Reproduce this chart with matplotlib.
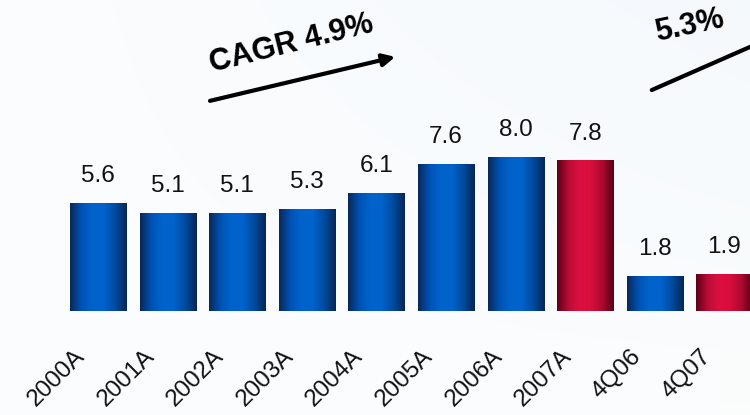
import numpy as np
import matplotlib
matplotlib.use("Agg")
from matplotlib import pyplot as plt
from matplotlib.colors import LinearSegmentedColormap

plt.rcParams['font.family'] = ['Liberation Sans', 'DejaVu Sans']

periods = ['2000A', '2001A', '2002A', '2003A', '2004A',
           '2005A', '2006A', '2007A', '4Q06', '4Q07']
values = [5.6, 5.1, 5.1, 5.3, 6.1, 7.6, 8.0, 7.8, 1.8, 1.9]
highlight = ['2007A', '4Q07']

# cylinder-like shading across each bar
blue = LinearSegmentedColormap.from_list(
    'blue', ['#0a2858', '#0052b4', '#0064cc', '#0062ca', '#004a9e', '#072654'])
red = LinearSegmentedColormap.from_list(
    'red', ['#5c0018', '#b80c34', '#dc1040', '#d80e3c', '#ac0a30', '#560016'])
grad = np.linspace(0, 1, 256).reshape(1, -1)

fig = plt.figure(figsize=(7.5, 4.15), dpi=100)
ax = fig.add_axes([0, 0, 1, 1])
ax.set_xlim(-1.408, 9.368)
ax.set_ylim(-5.39, 16.11)
ax.axis('off')

# pale bluish backdrop
bg = np.linspace(0, 1, 200)
bgx, bgy = np.meshgrid(bg, bg)
bgimg = np.zeros((200, 200, 3))
bgimg[..., 0] = 0.985 - 0.025 * bgx * (1 - bgy)
bgimg[..., 1] = 0.99 - 0.012 * bgx * (1 - bgy)
bgimg[..., 2] = 0.996 - 0.004 * bgx
ax.imshow(bgimg, extent=[-1.408, 9.368, -5.39, 16.11], aspect='auto',
          origin='upper', zorder=0)

x = np.arange(len(periods))
bars = ax.bar(x, values, width=0.805, color='none', zorder=2)
for xi, bar, name, v in zip(x, bars, periods, values):
    x0 = bar.get_x()
    cmap = red if name in highlight else blue
    im = ax.imshow(grad, extent=[x0, x0 + bar.get_width(), 0, bar.get_height()],
                   aspect='auto', cmap=cmap, zorder=2)
    im.set_clip_path(bar)
    ax.annotate(f'{v:.1f}', (xi, v), xytext=(0, 15), textcoords='offset points',
                ha='center', va='baseline', fontsize=17.5, color='#111111')
    ax.text(xi - 0.18, -2.4, name, rotation=45, rotation_mode='anchor',
            ha='right', va='baseline', fontsize=17.5, color='#111111')

# growth arrows
arrow = dict(arrowstyle='-|>', color='black', lw=3, mutation_scale=18,
             shrinkA=0, shrinkB=0)
ax.annotate('', xy=(0.527, 0.863), xytext=(0.28, 0.757),
            xycoords='axes fraction', arrowprops=arrow)
ax.text(0.389, 0.894, 'CAGR 4.9%', transform=ax.transAxes, rotation=14,
        ha='center', va='center', fontsize=22, fontweight='bold')
ax.annotate('', xy=(1.067, 0.94), xytext=(0.869, 0.783),
            xycoords='axes fraction', arrowprops=arrow, annotation_clip=False)
ax.text(0.919, 0.937, '5.3%', transform=ax.transAxes, rotation=12,
        ha='center', va='center', fontsize=22, fontweight='bold')

fig.savefig('out.png', dpi=100)
